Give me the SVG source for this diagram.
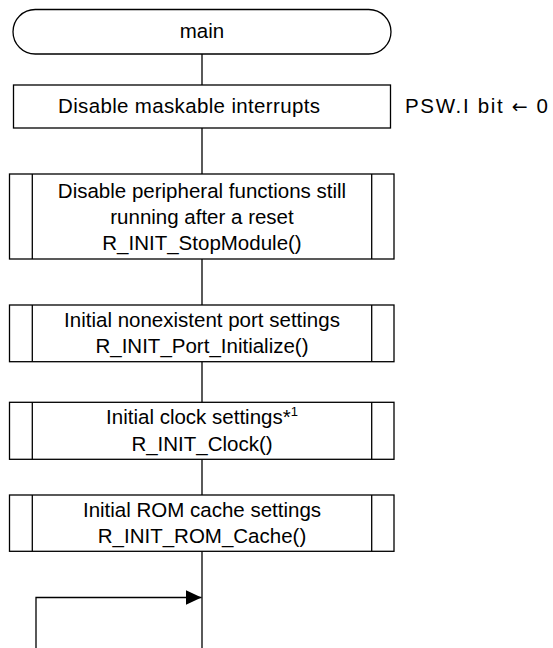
<svg xmlns="http://www.w3.org/2000/svg" width="553" height="648" viewBox="0 0 553 648">
<style>
.s{fill:#fff;stroke:#000;stroke-width:1.3}
.l{fill:none;stroke:#000;stroke-width:1.3}
text{font-family:"Liberation Sans",Arial,sans-serif;font-size:20.5px;fill:#000}
.c{text-anchor:middle}
</style>
<defs>
<marker id="ah" markerWidth="16" markerHeight="15" refX="16" refY="7.5" orient="auto" markerUnits="userSpaceOnUse">
<path d="M0,0 L16,7.5 L0,15 Z" fill="#000"/>
</marker>
</defs>
<g id="connectors">
<line class="l" x1="202" y1="54" x2="202" y2="85"/>
<line class="l" x1="202" y1="128" x2="202" y2="174"/>
<line class="l" x1="202" y1="259" x2="202" y2="305"/>
<line class="l" x1="202" y1="362" x2="202" y2="402"/>
<line class="l" x1="202" y1="459" x2="202" y2="495"/>
<line class="l" x1="202" y1="551" x2="202" y2="648"/>
<polyline class="l" points="36,648 36,597.5 201.5,597.5" marker-end="url(#ah)"/>
</g>
<g id="main">
<rect class="s" x="13" y="9.5" width="378" height="44.5" rx="22.25" ry="22.25"/>
<text class="c" x="202" y="38">main</text>
</g>
<g id="disable-interrupts">
<rect class="s" x="13.5" y="85" width="377" height="43"/>
<text class="c" x="189" y="113" textLength="262" lengthAdjust="spacing">Disable maskable interrupts</text>
</g>
<g id="psw-note">
<text x="405" y="113" textLength="143" lengthAdjust="spacing">PSW.I bit <tspan font-family="'DejaVu Sans',sans-serif" font-size="19">←</tspan> 0</text>
</g>
<g id="stop-module">
<rect class="s" x="9.5" y="174" width="384.5" height="85"/>
<line class="l" x1="32.3" y1="174" x2="32.3" y2="259"/>
<line class="l" x1="371.7" y1="174" x2="371.7" y2="259"/>
<text class="c" x="202" y="197.5">Disable peripheral functions still</text>
<text class="c" x="202" y="223.5">running after a reset</text>
<text class="c" x="202" y="249.5">R_INIT_StopModule()</text>
</g>
<g id="port-init">
<rect class="s" x="9.5" y="305" width="384.5" height="56.7"/>
<line class="l" x1="32.3" y1="305" x2="32.3" y2="361.7"/>
<line class="l" x1="371.7" y1="305" x2="371.7" y2="361.7"/>
<text class="c" x="202" y="326.5">Initial nonexistent port settings</text>
<text class="c" x="202" y="352.5">R_INIT_Port_Initialize()</text>
</g>
<g id="clock">
<rect class="s" x="9.5" y="402.3" width="384.5" height="57"/>
<line class="l" x1="32.3" y1="402.3" x2="32.3" y2="459.3"/>
<line class="l" x1="371.7" y1="402.3" x2="371.7" y2="459.3"/>
<text class="c" x="202" y="424">Initial clock settings*<tspan font-size="13" dy="-8">1</tspan></text>
<text class="c" x="202" y="450.5">R_INIT_Clock()</text>
</g>
<g id="rom-cache">
<rect class="s" x="9.5" y="495" width="384.5" height="56.3"/>
<line class="l" x1="32.3" y1="495" x2="32.3" y2="551.3"/>
<line class="l" x1="371.7" y1="495" x2="371.7" y2="551.3"/>
<text class="c" x="202" y="517">Initial ROM cache settings</text>
<text class="c" x="202" y="543">R_INIT_ROM_Cache()</text>
</g>
</svg>
